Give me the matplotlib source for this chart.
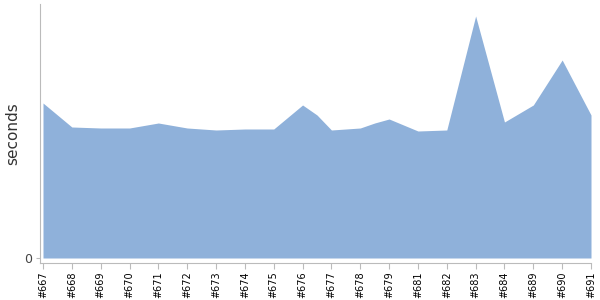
import matplotlib
matplotlib.use('Agg')
import matplotlib.pyplot as plt

# build labels and where they sit on the x axis
builds = ['#667', '#668', '#669', '#670', '#671', '#672', '#673', '#674', '#675', '#676',
          '#677', '#678', '#679', '#681', '#682', '#683', '#684', '#689', '#690', '#691']

# sample positions (a couple of extra samples sit between builds)
xpos = [0, 1, 2, 3, 4, 5, 6, 7, 8, 9, 9.5, 10, 11, 11.5, 12, 13, 14, 15, 16, 17, 18, 19]
secs = [155, 131, 130, 130, 135, 130, 128, 129, 129, 153, 143, 128, 130, 135, 139,
        127, 128, 242, 136, 153, 198, 143]

fig = plt.figure(figsize=(6, 3), dpi=100)
ax = fig.add_axes([40/600, 37/300, 551/600, 259/300])

ax.fill_between(xpos, secs, 0, color='#8fb1da', linewidth=0)

ax.set_xlim(-0.104, 19)
ax.set_ylim(-5, 254)

ax.set_xticks(range(len(builds)))
ax.set_xticklabels(builds, rotation=90, fontsize=7)
ax.set_yticks([0])
ax.set_yticklabels(['0'], fontsize=9, color='#444444')
ax.tick_params(axis='x', length=4, color='#bbbbbb', pad=2)
ax.tick_params(axis='y', length=3, color='#bbbbbb', pad=3)

for s in ['top', 'right']:
    ax.spines[s].set_visible(False)
for s in ['left', 'bottom']:
    ax.spines[s].set_color('#bbbbbb')

ax.set_ylabel('seconds', fontsize=11, color='#333333')
ax.yaxis.set_label_coords(-0.036, 0.5)

fig.savefig('out.png')
